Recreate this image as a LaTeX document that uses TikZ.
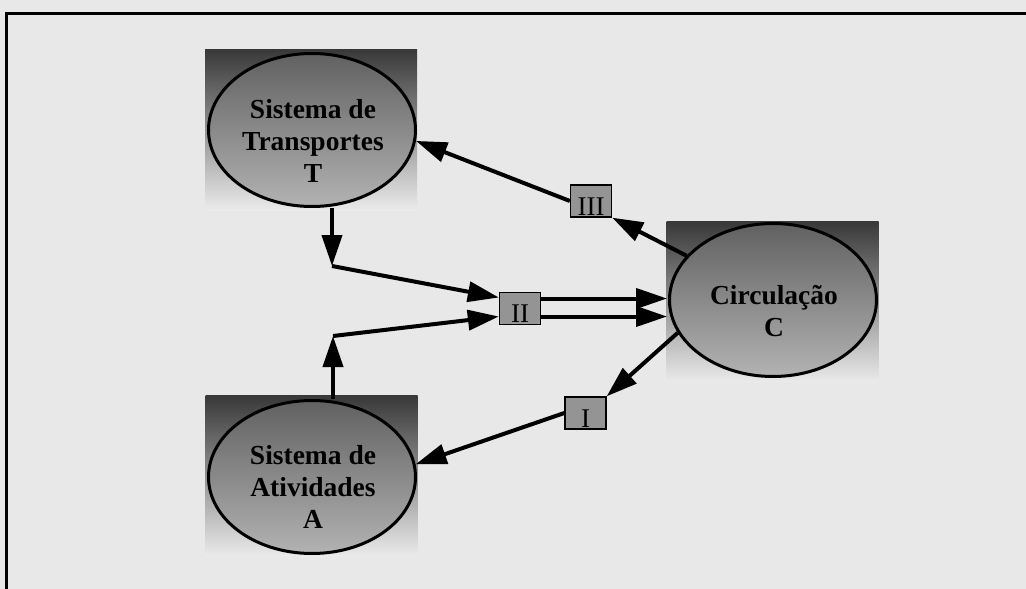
\documentclass[tikz,border=0pt]{standalone}
\usepackage{fontspec}
\setmainfont{Liberation Serif}
\usetikzlibrary{arrows.meta,calc,shapes.geometric}

\begin{document}
\begin{tikzpicture}[x=1pt,y=-1pt,
  plate/.style={rectangle, minimum width=212pt, minimum height=161pt,
    inner sep=0pt, top color=black!78, bottom color=black!8},
  sys/.style={ellipse, draw, line width=3pt, minimum width=207pt,
    minimum height=153pt, inner sep=0pt, top color=black!62, bottom color=black!30},
  systext/.style={align=center, inner sep=0pt,
    font=\bfseries\fontsize{27.5}{32}\selectfont},
  flag/.style={rectangle, draw, line width=1.3pt, fill=black!42,
    minimum width=41pt, minimum height=32pt, inner sep=0pt,
    text height=28pt, text depth=0pt, font=\fontsize{27}{27}\selectfont},
  flow/.style={line width=4pt, -{Triangle[length=31pt,width=20pt]}},
]
% page and frame
\useasboundingbox (0,0) rectangle (1026,589);
\fill[black!9] (0,0) rectangle (1026,589);
\draw[line width=3pt] (6,600) |- (1030,13);

% shaded plates behind the three systems
\node[plate] (Tsq) at (311,129.5) {};
\node[plate] (Asq) at (311.5,476) {};
\node[plate] (Csq) at (772.5,302) {};

% systems
\node[sys] (T) at (312,130) {};
\node[sys] (A) at (312,477) {};
\node[sys] (C) at (773,300) {};
\node[systext] (Tl) at (313,141) {Sistema de\\Transportes\\T};
\node[systext] (Al) at (313,487) {Sistema de\\Atividades\\A};
\node[systext] (Cl) at (774,311) {Circulação\\C};

% interaction markers
\node[flag] (III) at (591,201) {III};
\node[flag] (II) at (520,308.5) {II};
\node[flag] (I) at (585.5,413) {I};

% bend points of the flows into II
\coordinate (Tk) at (332,266);
\coordinate (Ak) at (333,336);

% T and A feed II
\draw[flow] (T.south -| Tk) -- (Tk);
\draw[flow] (Tk) -- ($(II.west)+(0,-11)$);
\draw[flow] (A.north -| Ak) -- (Ak);
\draw[flow] (Ak) -- ($(II.west)+(0,8)$);

% II acts on C
\draw[flow] ($(II.east)+(0,-10)$) -- ($(C.west)+(-1,-1.5)$);
\draw[flow] ($(II.east)+(0,8)$) -- ($(C.west)+(-1,16.5)$);

% C feeds back through III to T and through I to A
\draw[flow] (C) -- (III.south east);
\draw[flow] (III.west) -- (T.-6);
\draw[flow] (C.199) -- (I.north east);
\draw[flow] (I.west) -- (A.7);
\end{tikzpicture}
\end{document}
